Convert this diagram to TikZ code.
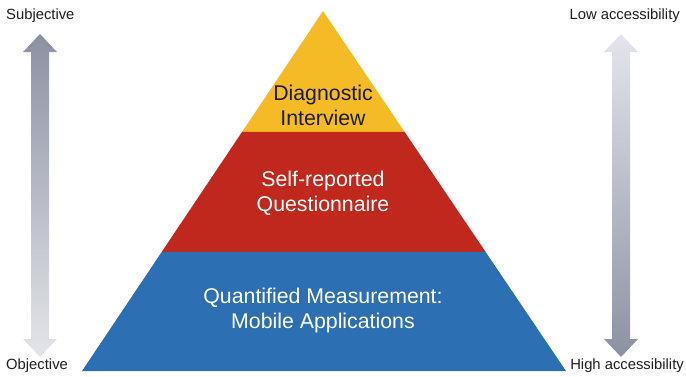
\documentclass[tikz,border=0pt]{standalone}
\usepackage{fontspec}
\setmainfont{Liberation Sans}
\usetikzlibrary{calc}
\definecolor{pyryellow}{RGB}{245,187,39}
\definecolor{pyrred}{RGB}{192,40,29}
\definecolor{pyrblue}{RGB}{45,111,179}
\definecolor{arrowdark}{RGB}{140,145,162}
\definecolor{arrowlight}{RGB}{228,229,235}
\definecolor{txtdark}{RGB}{30,30,30}

\begin{document}
\begin{tikzpicture}[x=1pt, y=-1pt,
	layer/.style={align=center, font=\fontsize{21.3}{25}\selectfont, white},
	side/.style={font=\fontsize{14.8}{16}\selectfont, txtdark, inner sep=0pt}]
	\useasboundingbox (0,0) rectangle (686,376);

	% corners of the pyramid
	\coordinate (top) at (323, 11);
	\coordinate (bl) at (82, 371);
	\coordinate (br) at (566, 371);
	\coordinate (yl) at ($(top)!0.336!(bl)$);
	\coordinate (yr) at ($(top)!0.336!(br)$);
	\coordinate (rl) at ($(top)!0.669!(bl)$);
	\coordinate (rr) at ($(top)!0.669!(br)$);

	\fill[pyryellow] (top) -- (yr) -- (yl) -- cycle;
	\fill[pyrred] (yl) -- (yr) -- (rr) -- (rl) -- cycle;
	\fill[pyrblue] (rl) -- (rr) -- (br) -- (bl) -- cycle;

	\node[layer, txtdark] (diag) at (323, 105) {Diagnostic\\Interview};
	\node[layer] (self) at (323, 193) {Self-reported\\Questionnaire};
	\node[layer] (quant) at (323, 310) {Quantified Measurement:\\Mobile Applications};

	% the two double arrows at the sides
	\foreach \cx/\ctop/\cbot in {40/arrowdark/arrowlight, 621/arrowlight/arrowdark}{
		\shade[top color=\ctop, bottom color=\cbot]
			(\cx, 34) -- (\cx+17, 52) -- (\cx+9, 52) -- (\cx+9, 339) -- (\cx+17, 339)
			-- (\cx, 357) -- (\cx-17, 339) -- (\cx-9, 339) -- (\cx-9, 52) -- (\cx-17, 52) -- cycle;
	}

	\node[side, anchor=west] (subj) at (6, 16) {Subjective};
	\node[side, anchor=west] (obj) at (6, 366) {Objective};
	\node[side, anchor=east] (lowacc) at (680, 16) {Low accessibility};
	\node[side, anchor=east] (highacc) at (684, 366) {High accessibility};
\end{tikzpicture}
\end{document}
